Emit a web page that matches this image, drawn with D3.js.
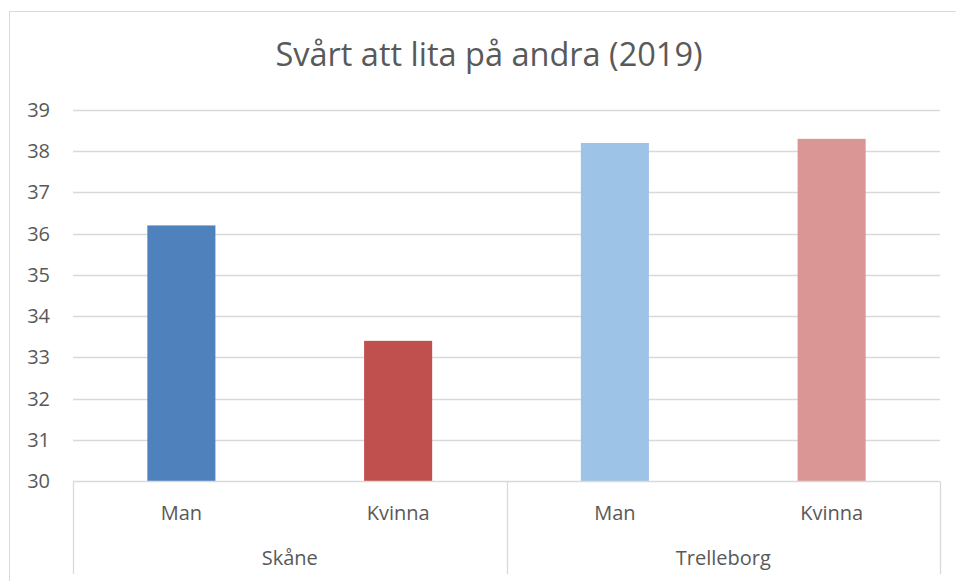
<!DOCTYPE html>
<html>
<head>
<meta charset="utf-8">
<script src="https://cdn.jsdelivr.net/npm/d3@7"></script>
<style>
  body { margin: 0; background: #fff; }
  svg { display: block; }
</style>
</head>
<body>
<svg id="chart"></svg>
<script>
const groups = ['Skåne', 'Trelleborg'];
const genders = ['Man', 'Kvinna'];
const values = [36.2, 33.4, 38.2, 38.3]; // Skåne Man, Skåne Kvinna, Trelleborg Man, Trelleborg Kvinna
const colors = ['#4f81bd', '#c0504d', '#9dc3e6', '#d99694'];
const yTicks = [30, 31, 32, 33, 34, 35, 36, 37, 38, 39];

const width = 956;
const height = 581;
const margin = { top: 110, right: 16, bottom: 100, left: 73 };

const svg = d3.select('#chart')
  .attr('width', width)
  .attr('height', height)
  .style('font-family', 'Open Sans, sans-serif');

// chart frame
svg.append('rect')
  .attr('x', 9.5)
  .attr('y', 11.5)
  .attr('width', width)
  .attr('height', height)
  .attr('fill', 'none')
  .attr('stroke', '#d9d9d9');

const rows = groups.flatMap(g => genders.map(s => ({ group: g, gender: s })));
rows.forEach((d, i) => { d.value = values[i]; d.color = colors[i]; d.key = d.group + '|' + d.gender; });

const x = d3.scaleBand()
  .domain(rows.map(d => d.key))
  .range([margin.left, width - margin.right])
  .padding(0);

const xGroup = d3.scaleBand()
  .domain(groups)
  .range([margin.left, width - margin.right])
  .padding(0);

const y = d3.scaleLinear()
  .domain([30, 39])
  .range([height - margin.bottom, margin.top]);

// gridlines
svg.append('g')
  .selectAll('line')
  .data(yTicks.slice(1))
  .join('line')
  .attr('x1', margin.left)
  .attr('x2', width - margin.right)
  .attr('y1', d => Math.round(y(d)) + 0.5)
  .attr('y2', d => Math.round(y(d)) + 0.5)
  .attr('stroke', '#d9d9d9')
  .attr('stroke-width', 1.3);

// y axis labels
svg.append('g')
  .selectAll('text')
  .data(yTicks)
  .join('text')
  .attr('x', 50)
  .attr('y', d => y(d))
  .attr('dy', '0.35em')
  .attr('text-anchor', 'end')
  .attr('font-size', '20px')
  .attr('fill', '#595959')
  .text(d => d);

// bars
const barW = x.bandwidth() * 0.314;
svg.append('g')
  .selectAll('rect')
  .data(rows)
  .join('rect')
  .attr('x', d => x(d.key) + (x.bandwidth() - barW) / 2)
  .attr('y', d => y(d.value))
  .attr('width', barW)
  .attr('height', d => y(30) - y(d.value))
  .attr('fill', d => d.color);

// category axis (two levels)
const axisY = Math.round(y(30)) + 0.5;
const axisBottom = 574;
const axis = svg.append('g').attr('stroke', '#d9d9d9').attr('stroke-width', 1.3);
axis.append('line')
  .attr('x1', margin.left).attr('x2', width - margin.right)
  .attr('y1', axisY).attr('y2', axisY);
const seps = groups.map(g => xGroup(g)).concat([width - margin.right]);
axis.selectAll('line.sep')
  .data(seps)
  .join('line')
  .attr('class', 'sep')
  .attr('x1', d => Math.round(d) + 0.5)
  .attr('x2', d => Math.round(d) + 0.5)
  .attr('y1', axisY)
  .attr('y2', axisBottom);

svg.append('g')
  .selectAll('text')
  .data(rows)
  .join('text')
  .attr('x', d => x(d.key) + x.bandwidth() / 2)
  .attr('y', 513)
  .attr('dy', '0.35em')
  .attr('text-anchor', 'middle')
  .attr('font-size', '20px')
  .attr('fill', '#595959')
  .text(d => d.gender);

svg.append('g')
  .selectAll('text')
  .data(groups)
  .join('text')
  .attr('x', d => xGroup(d) + xGroup.bandwidth() / 2)
  .attr('y', 558)
  .attr('dy', '0.35em')
  .attr('text-anchor', 'middle')
  .attr('font-size', '20px')
  .attr('fill', '#595959')
  .text(d => d);

// title
svg.append('text')
  .attr('x', 489)
  .attr('y', 55)
  .attr('dy', '0.35em')
  .attr('text-anchor', 'middle')
  .attr('font-size', '32.5px')
  .attr('fill', '#595959')
  .text('Svårt att lita på andra (2019)');
</script>
</body>
</html>
